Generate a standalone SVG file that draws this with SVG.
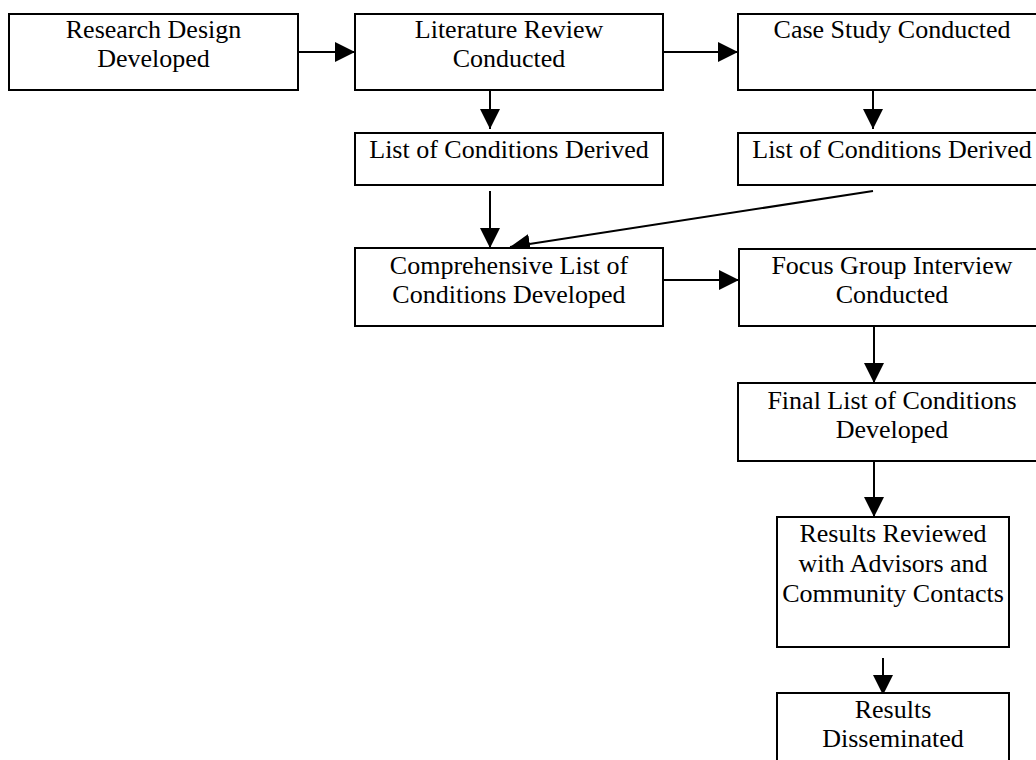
<svg xmlns="http://www.w3.org/2000/svg" width="1036" height="760" viewBox="0 0 1036 760">
<defs>
<style>
.box{fill:#fff;stroke:#000;stroke-width:2}
.t{font-family:"Liberation Serif","Times New Roman",serif;font-size:26px;fill:#000;text-anchor:middle}
.c{stroke:#000;stroke-width:2;fill:none;marker-end:url(#ah)}
</style>
<marker id="ah" markerUnits="userSpaceOnUse" markerWidth="20" markerHeight="20" refX="20" refY="10" orient="auto" viewBox="0 0 20 20">
<path d="M0,0 L20,10 L0,20 z" fill="#000"/>
</marker>
</defs>
<rect width="1036" height="760" fill="#fff"/>
<g id="connectors">
<line class="c" x1="298" y1="52" x2="355" y2="52"/>
<line class="c" x1="663" y1="52" x2="738" y2="52"/>
<line class="c" x1="490" y1="90" x2="490" y2="129"/>
<line class="c" x1="873" y1="90" x2="873" y2="129"/>
<line class="c" x1="490" y1="191" x2="490" y2="248"/>
<line class="c" x1="873" y1="191" x2="510" y2="247"/>
<line class="c" x1="663" y1="280" x2="739" y2="280"/>
<line class="c" x1="874" y1="326" x2="874" y2="383"/>
<line class="c" x1="874" y1="461" x2="874" y2="517"/>
<line class="c" x1="883" y1="658" x2="883" y2="695"/>
</g>
<g id="n1"><rect class="box" x="9" y="14" width="289" height="76"/><text class="t" x="153.5" y="38">Research Design</text><text class="t" x="153.5" y="67">Developed</text></g>
<g id="n2"><rect class="box" x="355" y="14" width="308" height="76"/><text class="t" x="509" y="38">Literature Review</text><text class="t" x="509" y="67">Conducted</text></g>
<g id="n3"><rect class="box" x="738" y="14" width="308" height="76"/><text class="t" x="892" y="38">Case Study Conducted</text></g>
<g id="n4"><rect class="box" x="355" y="133" width="308" height="52"/><text class="t" x="509" y="158">List of Conditions Derived</text></g>
<g id="n5"><rect class="box" x="738" y="133" width="308" height="52"/><text class="t" x="892" y="158">List of Conditions Derived</text></g>
<g id="n6"><rect class="box" x="355" y="248" width="308" height="78"/><text class="t" x="509" y="274">Comprehensive List of</text><text class="t" x="509" y="303">Conditions Developed</text></g>
<g id="n7"><rect class="box" x="739" y="249" width="308" height="77"/><text class="t" x="892" y="274">Focus Group Interview</text><text class="t" x="892" y="303">Conducted</text></g>
<g id="n8"><rect class="box" x="738" y="383" width="308" height="78"/><text class="t" x="892" y="409">Final List of Conditions</text><text class="t" x="892" y="438">Developed</text></g>
<g id="n9"><rect class="box" x="777" y="517" width="232" height="130"/><text class="t" x="893" y="542">Results Reviewed</text><text class="t" x="893" y="572">with Advisors and</text><text class="t" x="893" y="602">Community Contacts</text></g>
<g id="n10"><rect class="box" x="777" y="693" width="232" height="80"/><text class="t" x="893" y="718">Results</text><text class="t" x="893" y="747">Disseminated</text></g>
</svg>
